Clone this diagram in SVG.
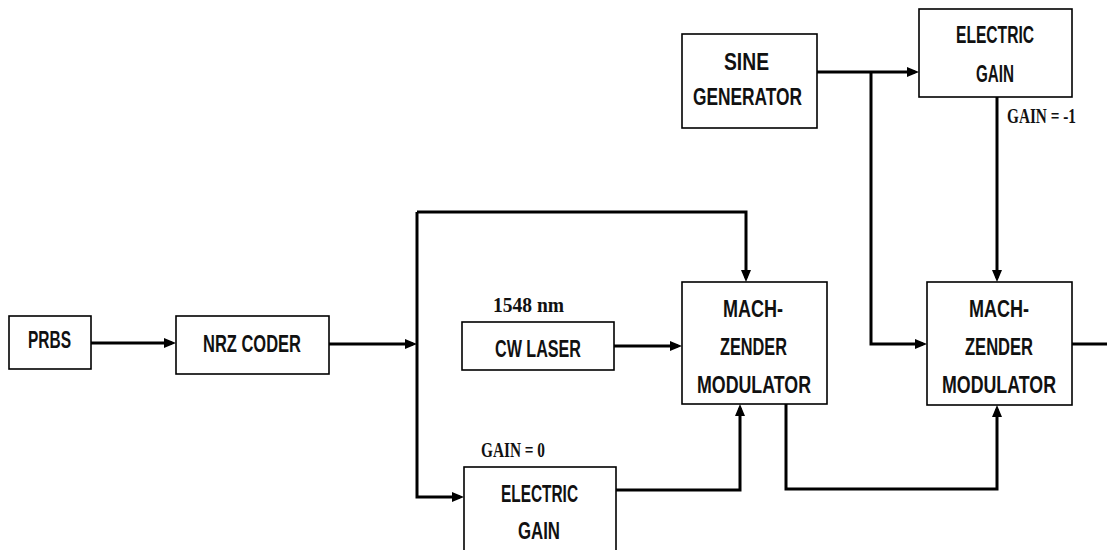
<svg xmlns="http://www.w3.org/2000/svg" width="1107" height="550" viewBox="0 0 1107 550">
<style>
.box{fill:#fff;stroke:#000;stroke-width:1.6}
.lbl{font-family:"Liberation Sans",Arial,sans-serif;font-weight:bold;font-size:24px;fill:#111}
.note{font-family:"Liberation Serif","Times New Roman",serif;font-weight:bold;font-size:20px;fill:#111}
.wire{fill:none;stroke:#000;stroke-width:3}
</style>
<defs>
<marker id="arr" markerUnits="userSpaceOnUse" markerWidth="13" markerHeight="11" refX="8" refY="5" orient="auto">
<path d="M0,0 L12,5 L0,10 z" fill="#000"/>
</marker>
</defs>
<rect width="1107" height="550" fill="#fff"/>

<g id="connectors">
<path class="wire" d="M91,343 H172" marker-end="url(#arr)"/>
<path class="wire" d="M329,344 H413" marker-end="url(#arr)"/>
<path class="wire" d="M417,344 V212"/>
<path class="wire" d="M417,212 H746 V278" marker-end="url(#arr)"/>
<path class="wire" d="M417,344 V497 H460" marker-end="url(#arr)"/>
<path class="wire" d="M614,346 H678" marker-end="url(#arr)"/>
<path class="wire" d="M616,490 H740 V408" marker-end="url(#arr)"/>
<path class="wire" d="M786,404 V489 H997 V409" marker-end="url(#arr)"/>
<path class="wire" d="M817,72 H915" marker-end="url(#arr)"/>
<path class="wire" d="M871,72 V344 H923" marker-end="url(#arr)"/>
<path class="wire" d="M997,97 V278" marker-end="url(#arr)"/>
<path class="wire" d="M1072,344 H1107"/>
</g>

<g id="prbs">
<rect class="box" x="9" y="316" width="82" height="53"/>
<text class="lbl" x="28" y="348" textLength="43" lengthAdjust="spacingAndGlyphs">PRBS</text>
</g>

<g id="nrz">
<rect class="box" x="176" y="316" width="153" height="58"/>
<text class="lbl" x="203" y="352" textLength="98" lengthAdjust="spacingAndGlyphs">NRZ CODER</text>
</g>

<g id="cwlaser">
<rect class="box" x="462" y="322" width="152" height="48"/>
<text class="lbl" x="495" y="357" textLength="86" lengthAdjust="spacingAndGlyphs">CW LASER</text>
<text class="note" x="493" y="312" textLength="71" lengthAdjust="spacingAndGlyphs">1548 nm</text>
</g>

<g id="gain0">
<rect class="box" x="464" y="467" width="152" height="100"/>
<text class="lbl" x="501" y="502" textLength="77" lengthAdjust="spacingAndGlyphs">ELECTRIC</text>
<text class="lbl" x="518" y="539" textLength="42" lengthAdjust="spacingAndGlyphs">GAIN</text>
<text class="note" x="481" y="457" textLength="64" lengthAdjust="spacingAndGlyphs">GAIN = 0</text>
</g>

<g id="mzm1">
<rect class="box" x="682" y="282" width="145" height="122"/>
<text class="lbl" x="723" y="317" textLength="60" lengthAdjust="spacingAndGlyphs">MACH-</text>
<text class="lbl" x="720" y="355" textLength="67" lengthAdjust="spacingAndGlyphs">ZENDER</text>
<text class="lbl" x="697" y="393" textLength="114" lengthAdjust="spacingAndGlyphs">MODULATOR</text>
</g>

<g id="sine">
<rect class="box" x="682" y="34" width="135" height="94"/>
<text class="lbl" x="724" y="70" textLength="45" lengthAdjust="spacingAndGlyphs">SINE</text>
<text class="lbl" x="693" y="105" textLength="109" lengthAdjust="spacingAndGlyphs">GENERATOR</text>
</g>

<g id="gainm1">
<rect class="box" x="919" y="9" width="153" height="88"/>
<text class="lbl" x="956" y="43" textLength="78" lengthAdjust="spacingAndGlyphs">ELECTRIC</text>
<text class="lbl" x="976" y="82" textLength="38" lengthAdjust="spacingAndGlyphs">GAIN</text>
<text class="note" x="1007" y="123" textLength="69" lengthAdjust="spacingAndGlyphs">GAIN = -1</text>
</g>

<g id="mzm2">
<rect class="box" x="927" y="282" width="145" height="123"/>
<text class="lbl" x="969" y="317" textLength="60" lengthAdjust="spacingAndGlyphs">MACH-</text>
<text class="lbl" x="965" y="355" textLength="68" lengthAdjust="spacingAndGlyphs">ZENDER</text>
<text class="lbl" x="942" y="393" textLength="114" lengthAdjust="spacingAndGlyphs">MODULATOR</text>
</g>
</svg>
